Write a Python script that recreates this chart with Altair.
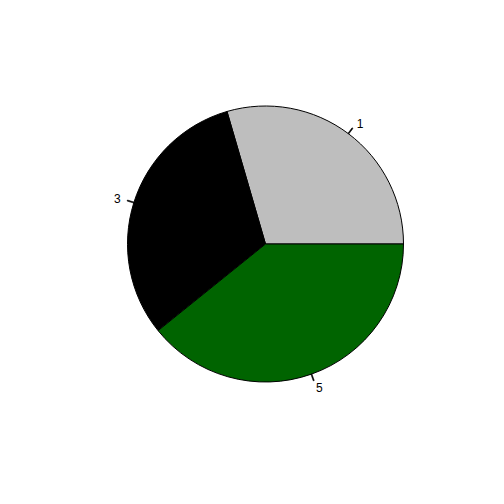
import math
import altair as alt
import pandas as pd

labels = ["1", "3", "5"]
values = [29.5, 31.3, 39.2]
colors = ["#BEBEBE", "#000000", "#006400"]
order = [1, 2, 3]

df = pd.DataFrame({"label": labels, "value": values, "color": colors, "order": order})

CX, CY, R = 257.5, 236, 138
theta_scale = alt.Scale(domain=[0, 1], range=[math.pi / 2, math.pi / 2 - 2 * math.pi])

base = alt.Chart(df).transform_joinaggregate(
    total="sum(value)"
).transform_window(
    cum="sum(value)", sort=[alt.SortField("order")], frame=[None, 0]
).transform_calculate(
    end="datum.cum / datum.total",
    start="(datum.cum - datum.value) / datum.total",
).transform_calculate(
    mid="(datum.start + datum.end) / 2",
).transform_calculate(
    mid_a="datum.mid - 0.0006",
    mid_b="datum.mid + 0.0006",
    right="cos(2 * PI * datum.mid) >= 0",
)

slices = base.mark_arc(radius=R, stroke="black", strokeWidth=1).encode(
    theta=alt.Theta("start:Q", scale=theta_scale),
    theta2="end:Q",
    fill=alt.Fill("color:N", scale=None),
    x=alt.value(CX),
    y=alt.value(CY),
)

ticks = base.mark_arc(radius=R, radius2=R * 1.05, fill="black", stroke="black", strokeWidth=0.6).encode(
    theta=alt.Theta("mid_a:Q", scale=theta_scale),
    theta2="mid_b:Q",
    x=alt.value(CX),
    y=alt.value(CY),
)

text_kw = dict(radius=R * 1.1, baseline="middle", dy=1, fontSize=12, font="Arial, Liberation Sans", color="black")
labels_r = base.transform_filter("datum.right").mark_text(align="left", **text_kw).encode(
    theta=alt.Theta("mid:Q", scale=theta_scale),
    text="label:N",
    x=alt.value(CX),
    y=alt.value(CY),
)
labels_l = base.transform_filter("!datum.right").mark_text(align="right", **text_kw).encode(
    theta=alt.Theta("mid:Q", scale=theta_scale),
    text="label:N",
    x=alt.value(CX),
    y=alt.value(CY),
)

chart = alt.layer(slices, ticks, labels_r, labels_l).properties(
    width=488, height=488, autosize=alt.AutoSizeParams(type="none"), padding=0
).configure_view(stroke=None)

chart.save("out.html", embed_options={"renderer": "svg", "actions": False})
